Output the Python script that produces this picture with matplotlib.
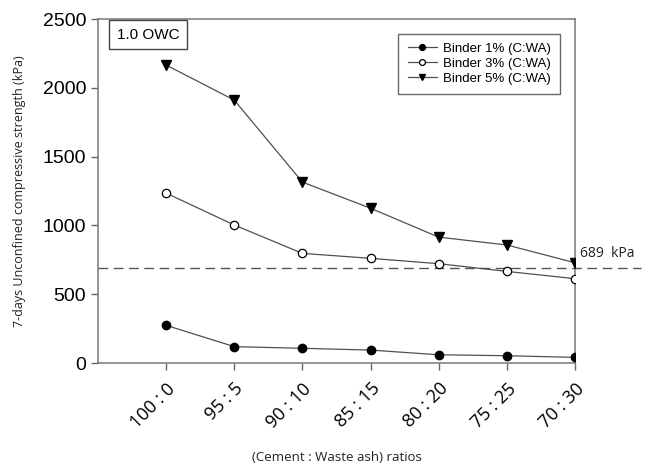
import matplotlib
matplotlib.use("Agg")
import matplotlib.pyplot as plt

# ratios and 7-day UCS readings (kPa)
ratios = ["100 : 0", "95 : 5", "90 : 10", "85 : 15", "80 : 20", "75 : 25", "70 : 30"]
binder_1 = [274, 119, 107, 94, 60, 53, 41]
binder_3 = [1235, 1003, 797, 761, 722, 666, 613]
binder_5 = [2166, 1911, 1315, 1125, 915, 858, 729]
limit_kpa = 689

x = list(range(1, len(ratios) + 1))

plt.rcParams['font.family'] = ['Liberation Sans', 'DejaVu Sans']
segoe_like = ['Open Sans', 'DejaVu Sans']

fig = plt.figure(figsize=(6.47, 4.66), dpi=100)
ax = fig.add_axes([0.1515, 0.221, 0.7372, 0.738])

line_col = '#505050'
ax.plot(x, binder_1, color=line_col, lw=0.9, marker='o', ms=6,
        mfc='black', mec='black', label='Binder 1% (C:WA)', zorder=3)
ax.plot(x, binder_3, color=line_col, lw=0.9, marker='o', ms=6,
        mfc='white', mec='black', mew=0.9, label='Binder 3% (C:WA)', zorder=3)
ax.plot(x, binder_5, color=line_col, lw=0.9, marker='v', ms=6.5,
        mfc='black', mec='black', label='Binder 5% (C:WA)', zorder=3)

# 689 kPa reference line, runs past the right edge
ax.plot([0, 7.97], [limit_kpa, limit_kpa], color='#555555', lw=1.0,
        ls=(0, (7, 4)), clip_on=False, zorder=2)
ax.text(7.08, limit_kpa + 50, "689  kPa", fontsize=10, family=segoe_like,
        color='#222222', va='bottom', ha='left')

ax.set_xlim(0, 7)
ax.set_ylim(0, 2500)
ax.set_xticks(x)
ax.set_xticklabels(ratios, rotation=45, ha='right', rotation_mode='anchor',
                   fontsize=13, family=segoe_like)
ax.set_yticks([0, 500, 1000, 1500, 2000, 2500])
ax.tick_params(axis='y', labelsize=14, direction='out', length=5, color='#666666', width=1)
ax.tick_params(axis='x', direction='out', length=5, color='#666666', width=1, pad=7)

for s in ax.spines.values():
    s.set_color('#777777')
    s.set_linewidth(1.1)

ax.set_ylabel("7-days Unconfined compressive strength (kPa)", fontsize=9,
              family=segoe_like, color='#222222', labelpad=12)
ax.set_xlabel("(Cement : Waste ash) ratios", fontsize=9.5,
              family=segoe_like, color='#222222', labelpad=14)

ax.text(0.04, 0.975, "1.0 OWC", transform=ax.transAxes, fontsize=11, va='top', ha='left',
        bbox=dict(boxstyle='square,pad=0.5', fc='white', ec='#444444', lw=1))

leg = ax.legend(loc='upper right', bbox_to_anchor=(0.983, 0.977), fontsize=9.5,
                frameon=True, fancybox=False, edgecolor='#444444', handlelength=2.2,
                handletextpad=0.5, borderpad=0.7, labelspacing=0.2, markerscale=0.7)
leg.get_frame().set_linewidth(1.0)

fig.savefig("out.png", dpi=100)
